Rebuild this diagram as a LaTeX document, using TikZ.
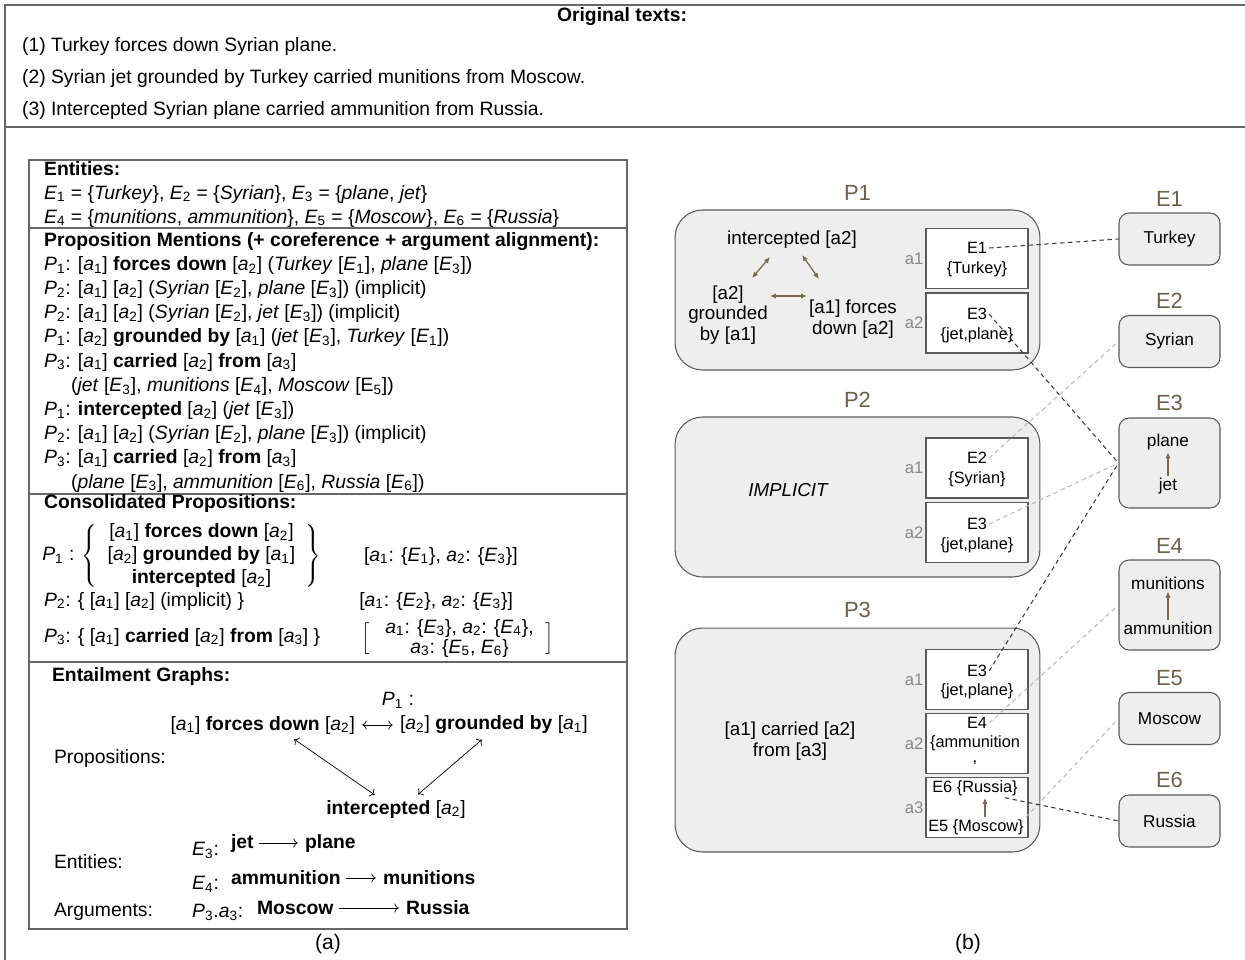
\documentclass[tikz,border=0pt]{standalone}
\usepackage{fontspec}
\setmainfont{Liberation Sans}
\usetikzlibrary{positioning,arrows.meta}

\definecolor{framegray}{HTML}{666666}
\definecolor{boxfill}{HTML}{EEEEEE}
\definecolor{boxdraw}{HTML}{5A5A5A}
\definecolor{labbrown}{HTML}{6E604C}
\definecolor{arrbrown}{HTML}{776850}
\definecolor{arggray}{HTML}{888888}
\definecolor{linkdark}{HTML}{3C3C3C}
\definecolor{linklight}{HTML}{BBBBBB}

\newcommand{\Ent}[1]{\textit{E}\textsubscript{#1}}
\newcommand{\Arg}[1]{\textit{a}\textsubscript{#1}}
\newcommand{\Prop}[1]{\textit{P}\textsubscript{#1}}

\tikzset{
  frame/.style={draw=framegray, line width=0.8pt},
  sepline/.style={draw=framegray, line width=0.6pt},
  txt/.style={inner sep=1pt, font=\fontsize{11}{13.2}\selectfont},
  pbox/.style={draw=boxdraw, fill=boxfill, rounded corners=0.55cm, line width=0.6pt, minimum width=7.3cm},
  plab/.style={inner sep=0pt, text=labbrown, font=\fontsize{12.5}{14}\selectfont},
  ptxt/.style={inner sep=1pt, align=center, font=\fontsize{10.7}{11.6}\selectfont},
  argbox/.style={draw=boxdraw, fill=white, line width=0.6pt, minimum width=2.04cm, minimum height=1.2cm},
  boxtxt/.style={inner sep=1pt, font=\fontsize{9.3}{11}\selectfont},
  arglab/.style={inner sep=1pt, text=arggray, font=\fontsize{9.5}{11}\selectfont},
  entbox/.style={draw=boxdraw, fill=boxfill, rounded corners=0.2cm, line width=0.6pt, minimum width=2.02cm, minimum height=1.04cm, font=\fontsize{9.8}{11}\selectfont},
  entxt/.style={inner sep=1pt, font=\fontsize{9.8}{11}\selectfont},
  link/.style={dash pattern=on 2.5pt off 2pt, line width=0.6pt},
  linkd/.style={link, draw=linkdark},
  linkl/.style={link, draw=linklight},
  bro/.style={arrbrown, line width=0.7pt, {Latex[length=3.5pt,width=3pt]}-{Latex[length=3.5pt,width=3pt]}},
  upbro/.style={arrbrown, line width=0.7pt, -{Latex[length=3.5pt,width=3pt]}},
  thinarr/.style={line width=0.4pt, -{To[length=2.5pt]}, shorten <=2pt, shorten >=3pt},
  thinboth/.style={line width=0.4pt, {To[length=2.5pt]}-{To[length=2.5pt]}, shorten <=3pt, shorten >=3pt},
}

\begin{document}
\begin{tikzpicture}[x=0.02cm, y=-0.02cm]
	\useasboundingbox (0,0) rectangle (1245,960);
	
	% Original texts
	\draw[frame] (5,960) -- (5,5) -- (1245,5);
	\draw[frame] (5,127) -- (1245,127);
	\node[txt, font=\fontsize{11}{13}\bfseries] (title) at (622,17) {Original texts:};
	\node[txt, anchor=west] (orig1) at (20,47) {(1) Turkey forces down Syrian plane.};
	\node[txt, anchor=west] (orig2) at (20,79) {(2) Syrian jet grounded by Turkey carried munitions from Moscow.};
	\node[txt, anchor=west] (orig3) at (20,111) {(3) Intercepted Syrian plane carried ammunition from Russia.};
	
	% (a)
	\draw[sepline] (29,160) rectangle (627,929);
	\draw[sepline] (29,228) -- (627,228);
	\draw[sepline] (29,494) -- (627,494);
	\draw[sepline] (29,662) -- (627,662);
	
	\foreach \ln [count=\i from 0] in {
		{\textbf{Entities:}},
		{\Ent{1} = \{\textit{Turkey}\}, \Ent{2} = \{\textit{Syrian}\}, \Ent{3} = \{\textit{plane}, \textit{jet}\}},
		{\Ent{4} = \{\textit{munitions}, \textit{ammunition}\}, \Ent{5} = \{\textit{Moscow}\}, \Ent{6} = \{\textit{Russia}\}}} {
		\node[txt, anchor=base west] (ent\i) at (42,{175+24*\i}) {\ln};
	}
	
	\foreach \ln [count=\i from 0] in {
		{\textbf{Proposition Mentions (+ coreference + argument alignment):}},
		{\Prop{1}: [\Arg{1}] \textbf{forces down} [\Arg{2}] (\textit{Turkey} [\Ent{1}], \textit{plane} [\Ent{3}])},
		{\Prop{2}: [\Arg{1}] [\Arg{2}] (\textit{Syrian} [\Ent{2}], \textit{plane} [\Ent{3}]) (implicit)},
		{\Prop{2}: [\Arg{1}] [\Arg{2}] (\textit{Syrian} [\Ent{2}], \textit{jet} [\Ent{3}]) (implicit)},
		{\Prop{1}: [\Arg{2}] \textbf{grounded by} [\Arg{1}] (\textit{jet} [\Ent{3}], \textit{Turkey} [\Ent{1}])},
		{\Prop{3}: [\Arg{1}] \textbf{carried} [\Arg{2}] \textbf{from} [\Arg{3}]},
		{\hspace*{1.4em}(\textit{jet} [\Ent{3}], \textit{munitions} [\Ent{4}], \textit{Moscow} [E\textsubscript{5}])},
		{\Prop{1}: \textbf{intercepted} [\Arg{2}] (\textit{jet} [\Ent{3}])},
		{\Prop{2}: [\Arg{1}] [\Arg{2}] (\textit{Syrian} [\Ent{2}], \textit{plane} [\Ent{3}]) (implicit)},
		{\Prop{3}: [\Arg{1}] \textbf{carried} [\Arg{2}] \textbf{from} [\Arg{3}]},
		{\hspace*{1.4em}(\textit{plane} [\Ent{3}], \textit{ammunition} [\Ent{6}], \textit{Russia} [\Ent{6}])}} {
		\node[txt, anchor=base west] (ment\i) at (42,{246+24.2*\i}) {\ln};
	}
	
	\node[txt, anchor=base west] (cons) at (42,508) {\textbf{Consolidated Propositions:}};
	\node[txt, anchor=west, inner sep=0pt, font=\fontsize{11}{12.9}\selectfont] (cons1) at (42,556) {\Prop{1} : $\left\{\begin{tabular}{c}
		{[}\Arg{1}] \textbf{forces down} [\Arg{2}]\\
		{[}\Arg{2}] \textbf{grounded by} [\Arg{1}]\\
		\textbf{intercepted} [\Arg{2}]
		\end{tabular}\right\}$};
	\node[txt, anchor=west] (cons1a) at (362,556) {[\Arg{1}: \{\Ent{1}\}, \Arg{2}: \{\Ent{3}\}]};
	\node[txt, anchor=west] (cons2) at (42,601) {\Prop{2}: \{ [\Arg{1}] [\Arg{2}] (implicit) \}};
	\node[txt, anchor=west, inner sep=0pt] (cons2a) at (359,601) {[\Arg{1}: \{\Ent{2}\}, \Arg{2}: \{\Ent{3}\}]};
	\node[txt, anchor=west] (cons3) at (42,637) {\Prop{3}: \{ [\Arg{1}] \textbf{carried} [\Arg{2}] \textbf{from} [\Arg{3}] \}};
	\node[txt, anchor=west, inner sep=0pt, font=\fontsize{11}{11.3}\selectfont] (cons3a) at (361,639) {$\Big[\begin{tabular}{@{\hspace{9pt}}c@{\hspace{7pt}}}
		\Arg{1}: \{\Ent{3}\}, \Arg{2}: \{\Ent{4}\},\\
		\Arg{3}: \{\Ent{5}, \Ent{6}\}
		\end{tabular}\Big]$};
	
	% entailment graphs
	\node[txt, anchor=base west] (eg) at (50,681) {\textbf{Entailment Graphs:}};
	\node[txt] (egP) at (398,700) {\Prop{1} :};
	\node[txt, anchor=east] (efd) at (357,725) {[\Arg{1}] \textbf{forces down} [\Arg{2}]};
	\node[txt, anchor=west] (egb) at (398,725) {[\Arg{2}] \textbf{grounded by} [\Arg{1}]};
	\node[txt] (eint) at (396,809) {\textbf{intercepted} [\Arg{2}]};
	\draw[thinboth] (efd) -- (egb);
	\draw[thinboth] ([xshift=0.54cm]efd.south) -- ([xshift=-0.34cm]eint.north);
	\draw[thinboth] ([xshift=-0.16cm]egb.south) -- ([xshift=0.36cm]eint.north);
	\node[txt, anchor=west] (lprop) at (52,758) {Propositions:};
	
	\node[txt, anchor=west] (lent) at (52,862) {Entities:};
	\node[txt, anchor=west] (le3) at (190,850) {\Ent{3}:};
	\node[txt, anchor=west] (njet) at (229,843) {\textbf{jet}};
	\node[txt, anchor=west] (nplane) at (303,843) {\textbf{plane}};
	\draw[thinarr] (njet) -- (nplane);
	\node[txt, anchor=west] (le4) at (190,884) {\Ent{4}:};
	\node[txt, anchor=west] (nammo) at (229,878) {\textbf{ammunition}};
	\node[txt, anchor=west] (nmun) at (381,878) {\textbf{munitions}};
	\draw[thinarr] (nammo) -- (nmun);
	\node[txt, anchor=west] (larg) at (52,912) {Arguments:};
	\node[txt, anchor=west] (lp3) at (190,912) {\Prop{3}.\Arg{3}:};
	\node[txt, anchor=west] (nmos) at (255,908) {\textbf{Moscow}};
	\node[txt, anchor=west] (nrus) at (404,908) {\textbf{Russia}};
	\draw[thinarr] (nmos) -- (nrus);
	
	\node[txt, font=\fontsize{12}{14}\selectfont] (capa) at (328,944) {(a)};
	\node[txt, font=\fontsize{12}{14}\selectfont] (capb) at (968,944) {(b)};
	
	% (b) propositions
	\node[pbox, minimum height=3.2cm] (p1) at (857.5,290) {};
	\node[pbox, minimum height=3.2cm] (p2) at (857.5,497) {};
	\node[pbox, minimum height=4.48cm] (p3) at (857.5,740) {};
	\node[plab, above=0.18cm of p1] (p1lab) {P1};
	\node[plab, above=0.18cm of p2] (p2lab) {P2};
	\node[plab, above=0.18cm of p3] (p3lab) {P3};
	
	\node[ptxt] (pint) at (792,240) {intercepted [a2]};
	\node[ptxt] (pgrd) at (728,315) {[a2]\\grounded\\by [a1]};
	\node[ptxt] (pfd) at (853,319) {[a1] forces\\down [a2]};
	\draw[bro] (770,257) -- (752,278);
	\draw[bro] (802,255) -- (819,279);
	\draw[bro] ([yshift=0.38cm]pgrd.east) -- ([yshift=0.38cm]pgrd.east -| pfd.west);
	\node[ptxt, font=\fontsize{10.7}{11.6}\itshape] (pimp) at (788,490) {IMPLICIT};
	\node[ptxt, font=\fontsize{10.7}{12}\selectfont] (pcar) at (790,741) {[a1] carried [a2]\\from [a3]};
	
	% argument slots
	\node[argbox] (p1a1) at (977,258.5) {};
	\node[argbox] (p1a2) at (977,323) {};
	\node[argbox] (p2a1) at (977,468) {};
	\node[argbox] (p2a2) at (977,532.5) {};
	\node[argbox] (p3a1) at (977,679.5) {};
	\node[argbox] (p3a2) at (977,743.5) {};
	\node[argbox] (p3a3) at (977,807.5) {};
	\node[arglab, left=0pt of p1a1] {a1};
	\node[arglab, left=0pt of p1a2] {a2};
	\node[arglab, left=0pt of p2a1] {a1};
	\node[arglab, left=0pt of p2a2] {a2};
	\node[arglab, left=0pt of p3a1] {a1};
	\node[arglab, left=0pt of p3a2] {a2};
	\node[arglab, left=0pt of p3a3] {a3};
	
	\node[boxtxt] (p1a1e) at (977,248) {E1};
	\node[boxtxt] (p1a1s) at (977,269) {\{Turkey\}};
	\node[boxtxt] (p1a2e) at (977,314) {E3};
	\node[boxtxt] (p1a2s) at (977,335) {\{jet,plane\}};
	\node[boxtxt] (p2a1e) at (977,458) {E2};
	\node[boxtxt] (p2a1s) at (977,479) {\{Syrian\}};
	\node[boxtxt] (p2a2e) at (977,524) {E3};
	\node[boxtxt] (p2a2s) at (977,545) {\{jet,plane\}};
	\node[boxtxt] (p3a1e) at (977,671) {E3};
	\node[boxtxt] (p3a1s) at (977,691) {\{jet,plane\}};
	\node[boxtxt] (p3a2e) at (977,723) {E4};
	\node[boxtxt] (p3a2s) at (975,743) {\{ammunition};
	\node[boxtxt] (p3a2c) at (975,763) {,};
	\node[boxtxt] (p3a3t) at (975,788) {E6 \{Russia\}};
	\node[boxtxt] (p3a3b) at (976,827) {E5 \{Moscow\}};
	\draw[upbro] ([xshift=0.18cm]p3a3b.north) -- ([xshift=0.18cm]p3a3b.north |- p3a3t.south);
	
	% entities
	\node[entbox] (ent1) at (1169.5,239) {Turkey};
	\node[entbox] (ent2) at (1169.5,341.5) {Syrian};
	\node[entbox, minimum height=1.8cm] (ent3) at (1169.5,463) {};
	\node[entbox, minimum height=1.8cm] (ent4) at (1169.5,605) {};
	\node[entbox] (ent5) at (1169.5,718.5) {Moscow};
	\node[entbox] (ent6) at (1169.5,821) {Russia};
	\foreach \e in {1,...,6} {
		\node[plab, above=0.12cm of ent\e] (ent\e lab) {E\e};
	}
	\node[entxt] (eplane) at (1168,442) {plane};
	\node[entxt] (ejet) at (1168,486) {jet};
	\draw[upbro] (ejet) -- (eplane);
	\node[entxt] (emun) at (1168,583) {munitions};
	\node[entxt] (eammo) at (1168,628) {ammunition};
	\draw[upbro] (eammo) -- (emun);
	
	% links
	\draw[linkd] (p1a1e.east) -- (ent1.west);
	\draw[linkd] (p1a2e.east) -- (ent3.west);
	\draw[linkl] (p2a1e.east) -- (ent2.west);
	\draw[linkl] (p2a2e.east) -- (ent3.west);
	\draw[linkd] (p3a1e.east) -- (ent3.west);
	\draw[linkl] (p3a2e.east) -- (ent4.west);
	\draw[linkl] (p3a3b.north east) -- (ent5.west);
	\draw[linkd] ([xshift=-0.3cm]p3a3t.south east) -- (ent6.west);
\end{tikzpicture}
\end{document}
